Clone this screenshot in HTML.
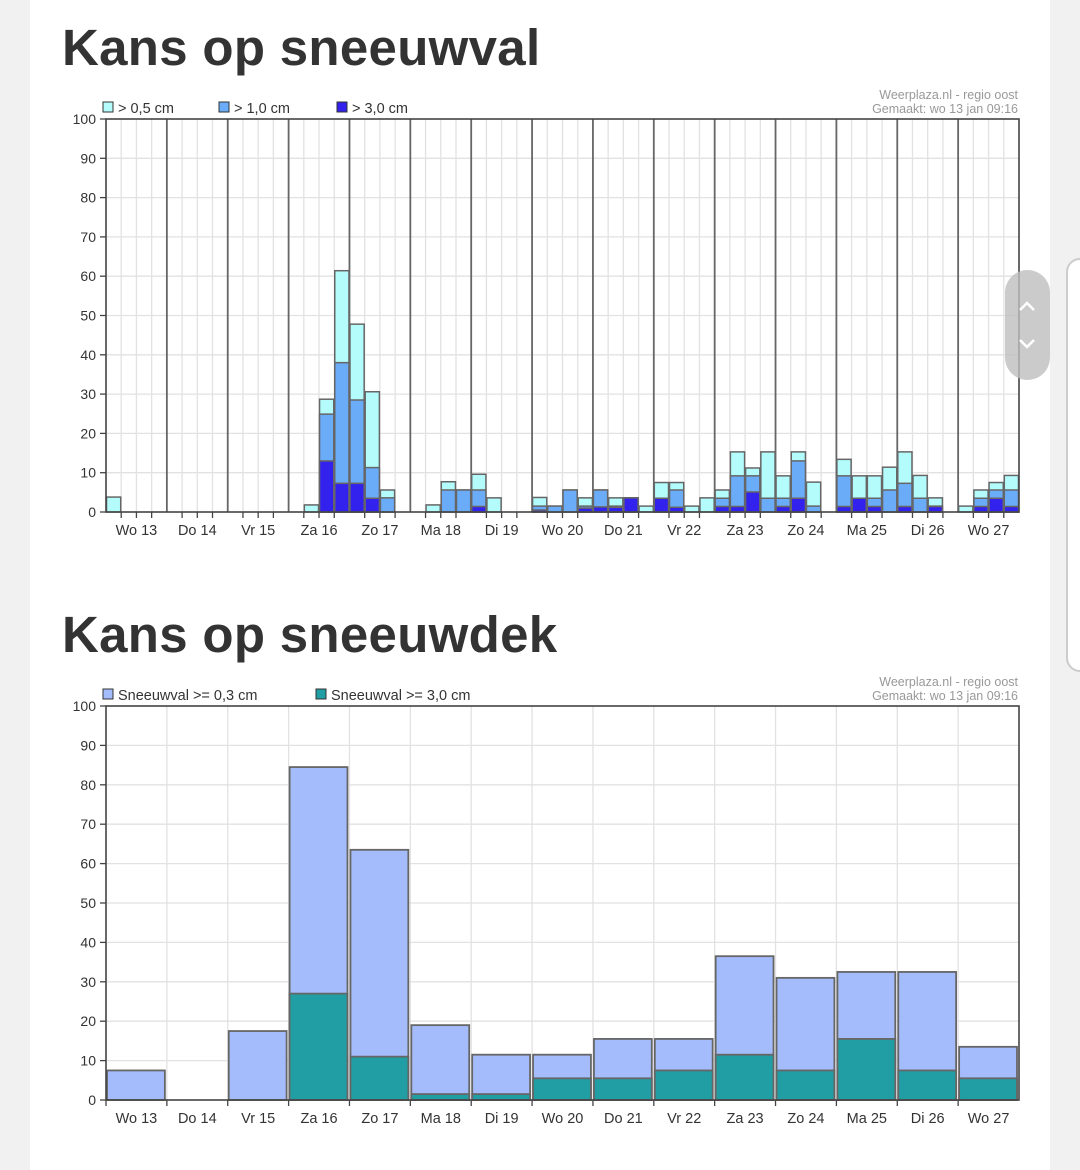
<!DOCTYPE html>
<html><head><meta charset="utf-8"><style>
body{margin:0;width:1080px;height:1170px;background:#f1f1f1;font-family:"Liberation Sans",sans-serif;overflow:hidden;position:relative}
#card{position:absolute;left:30px;top:0;width:1020px;height:1170px;background:#fff}
h1{position:absolute;margin:0;font-size:51px;font-weight:bold;color:#333;left:62px;letter-spacing:0.3px}
svg{position:absolute;left:0;top:0}
#pill{position:absolute;left:1005px;top:270px;width:45px;height:110px;border-radius:23px;background:rgba(190,190,190,0.8)}
#edge{position:absolute;left:1066px;top:258px;width:30px;height:410px;border:2px solid #ccc;border-radius:14px;background:#fff}
</style></head><body>
<div id="card"></div>
<div id="edge"></div>
<h1 style="top:18px">Kans op sneeuwval</h1>
<h1 style="top:605px">Kans op sneeuwdek</h1>
<svg id="chart" width="1080" height="1170"></svg>
<div id="pill">
<svg width="45" height="110"><path d="M15 40 L22 33 L29 40" stroke="#fff" stroke-width="2.5" fill="none"/><path d="M15 70 L22 77 L29 70" stroke="#fff" stroke-width="2.5" fill="none"/></svg></div>
<script>
const days=["Wo 13","Do 14","Vr 15","Za 16","Zo 17","Ma 18","Di 19","Wo 20","Do 21","Vr 22","Za 23","Zo 24","Ma 25","Di 26","Wo 27"];
const yTicks=[0,10,20,30,40,50,60,70,80,90,100];
// top chart: 4 slots per day
const fall05=[3.8,0,0,0, 0,0,0,0, 0,0,0,0, 0,1.8,28.7,61.4, 47.8,30.6,5.6,0, 0,1.8,7.7,5.6, 9.6,3.6,0,0, 3.7,1.5,5.6,3.6, 5.6,3.6,3.6,1.5, 7.5,7.5,1.5,3.6, 5.6,15.3,11.2,15.3, 9.2,15.3,7.6,0, 13.4,9.2,9.2,11.4, 15.3,9.3,3.6,0, 1.5,5.6,7.5,9.3];
const fall10=[0,0,0,0, 0,0,0,0, 0,0,0,0, 0,0,24.9,38, 28.5,11.3,3.6,0, 0,0,5.6,5.6, 5.6,0,0,0, 1.5,1.5,5.6,1.5, 5.6,1.5,3.6,0, 3.5,5.6,0,0, 3.5,9.2,9.2,3.5, 3.5,13,1.5,0, 9.2,3.5,3.5,5.6, 7.3,3.5,1.5,0, 0,3.5,5.6,5.6];
const fall30=[0,0,0,0, 0,0,0,0, 0,0,0,0, 0,0,13,7.3, 7.3,3.5,0,0, 0,0,0,0, 1.4,0,0,0, 0.5,0,0,1, 1.3,1.2,3.6,0, 3.5,1.2,0,0, 1.4,1.4,5.1,0, 1.4,3.5,0,0, 1.4,3.5,1.4,0, 1.4,0,1.4,0, 0,1.4,3.5,1.4];
// bottom chart
const cover03=[7.5,0,17.5,84.5,63.5,19,11.5,11.5,15.5,15.5,36.5,31,32.5,32.5,13.5];
const cover30=[0,0,0,27,11,1.5,1.5,5.5,5.5,7.5,11.5,7.5,15.5,7.5,5.5];

const NS="http://www.w3.org/2000/svg";
const svg=document.getElementById('chart');
const X0=106,X1=1019,DW=(X1-X0)/days.length;
function mk(tag,a,parent){const e=document.createElementNS(NS,tag);for(const k in a)e.setAttribute(k,a[k]);(parent||svg).appendChild(e);return e;}
function axes(top,bottom,legend,minor){
  const y=v=>bottom-(bottom-top)*v/100;
  const g=mk('g',{});
  
  
  yTicks.forEach(v=>{ if(v>0&&v<100) mk('line',{x1:X0,x2:X1,y1:y(v),y2:y(v),stroke:'#e2e2e2','stroke-width':1.3},g);
    mk('line',{x1:X0-6,x2:X0,y1:y(v),y2:y(v),stroke:'#444','stroke-width':1.3},g);
    const t=mk('text',{x:X0-10,y:y(v)+5,'text-anchor':'end','font-size':14,fill:'#333'},g);t.textContent=v;
    
  });
  for(let i=1;i<days.length*(minor?4:1);i++){const x=X0+i*DW/(minor?4:1);
    const major=minor&&i%4==0;
    mk('line',{x1:x,x2:x,y1:top,y2:bottom,stroke:major?'#666':'#e2e2e2','stroke-width':major?1.8:1.3},g);}
  days.forEach((d,i)=>{const cx=X0+(i+0.5)*DW;
    const t=mk('text',{x:cx,y:bottom+23,'text-anchor':'middle','font-size':14.5,fill:'#333'},g);t.textContent=d;
    
    if(minor){for(let k=1;k<4;k++)mk('line',{x1:X0+i*DW+k*DW/4,x2:X0+i*DW+k*DW/4,y1:bottom,y2:bottom+6,stroke:'#444','stroke-width':1.3},g);}
    else mk('line',{x1:X0+i*DW,x2:X0+i*DW,y1:bottom,y2:bottom+6,stroke:'#444','stroke-width':1.3},g);
  });
  legend.forEach((l,i)=>{
    mk('rect',{x:l[0],y:top-17,width:10,height:10,fill:l[2],stroke:'#333','stroke-width':1},g);
    const t=mk('text',{x:l[0]+15,y:top-6,'font-size':14.5,fill:'#333'},g);t.textContent=l[1];
    
  });
  const c1=mk('text',{x:1018,y:top-20,'text-anchor':'end','font-size':12.5,fill:'#999'},g);c1.textContent='Weerplaza.nl - regio oost';
  const c2=mk('text',{x:1018,y:top-6,'text-anchor':'end','font-size':12.5,fill:'#999'},g);c2.textContent='Gemaakt: wo 13 jan 09:16';
  return y;
}
function frame(top,bottom){mk('rect',{x:X0,y:top,width:X1-X0,height:bottom-top,fill:'none',stroke:'#444','stroke-width':1.6});}
// top chart
(function(){
  const top=119,bottom=512;
  const y=axes(top,bottom,[[103,'> 0,5 cm','#b4fcfc'],[219,'> 1,0 cm','#6aacf8'],[337,'> 3,0 cm','#3322ee']],true);
  const sw=DW/4;
  [[fall05,'#b4fcfc'],[fall10,'#6aacf8'],[fall30,'#3322ee']].forEach(([arr,col])=>{
    arr.forEach((v,i)=>{ if(v<=0)return;
      const r=mk('rect',{x:X0+i*sw+0.5,y:y(v),width:sw-1,height:bottom-y(v),fill:col,stroke:'#666','stroke-width':1.5});
      
      
    });
  });
  frame(top,bottom);
})();
// bottom chart
(function(){
  const top=706,bottom=1100;
  const y=axes(top,bottom,[[103,'Sneeuwval >= 0,3 cm','#a4bcfc'],[316,'Sneeuwval >= 3,0 cm','#209ea4']],false);
  [[cover03,'#a4bcfc'],[cover30,'#209ea4']].forEach(([arr,col])=>{
    arr.forEach((v,i)=>{ if(v<=0)return;
      const r=mk('rect',{x:X0+i*DW+1,y:y(v),width:DW-3,height:bottom-y(v),fill:col,stroke:'#666','stroke-width':1.8});
      
      
    });
  });
  frame(top,bottom);
})();
</script>
</body></html>
